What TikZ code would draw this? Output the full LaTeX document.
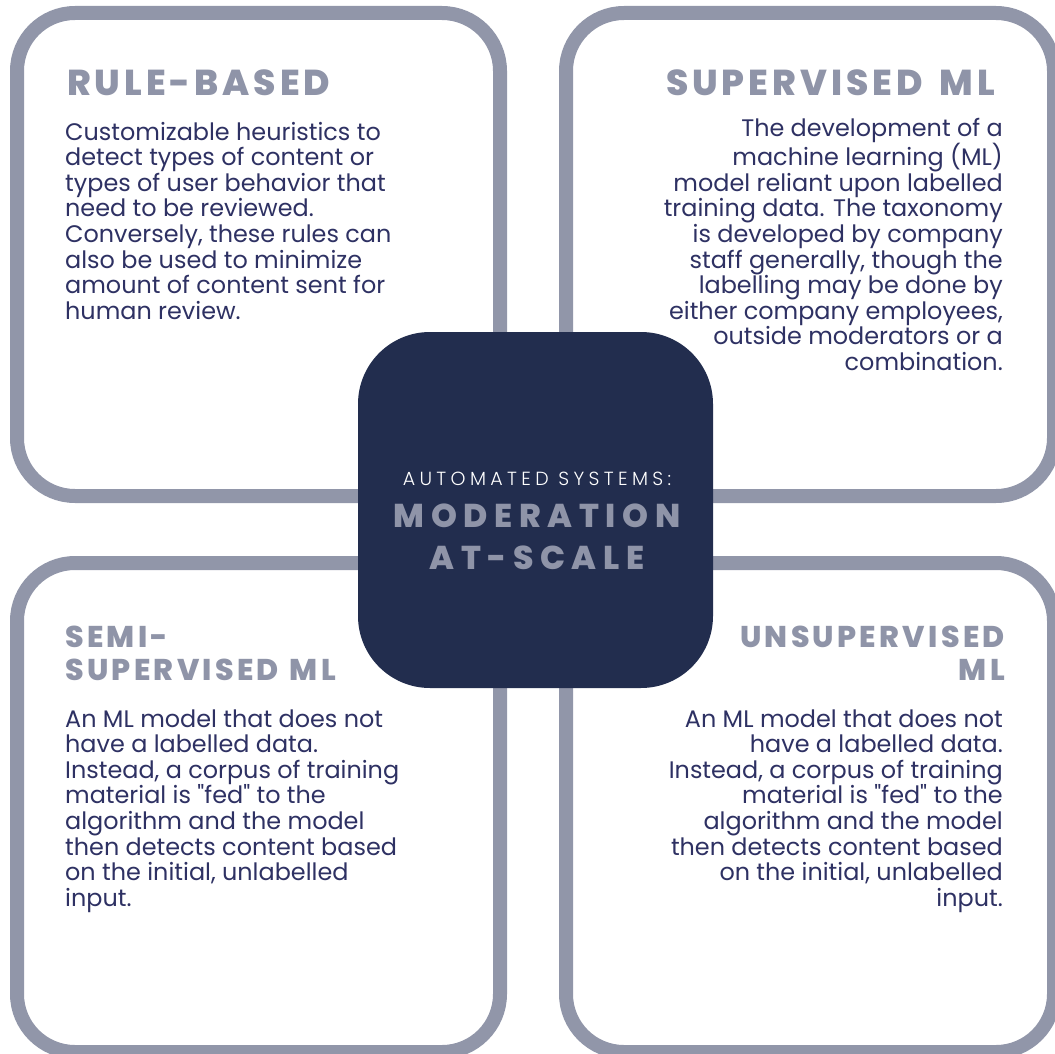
\documentclass[tikz,border=0pt]{standalone}
\usepackage{fontspec}
\setmainfont{Poppins}
% body text family without TeX ligatures, so " stays a straight quote
\newfontfamily\bodyfont{Poppins}
\newfontfamily\headfont{Poppins}[UprightFont={* ExtraBold}, LetterSpace=11]
\newfontfamily\hubfont{Poppins}[UprightFont={* ExtraBold}, LetterSpace=20]
\newfontfamily\capsfont{Poppins}[UprightFont={* Light}, LetterSpace=23]
\definecolor{frame}{HTML}{9196A9}
\definecolor{heading}{HTML}{8F94A8}
\definecolor{navy}{HTML}{222D4E}
\definecolor{ink}{HTML}{2E3163}
\newcommand{\wsp}[1]{\hspace{#1pt}}
\tikzset{
  card/.style={draw=frame, line width=14pt, fill=white, rounded corners=58pt,
    inner sep=0pt},
  hub/.style={fill=navy, rounded corners=72pt, inner sep=0pt},
  bighead/.style={inner sep=0pt, text=heading,
    font={\headfont\fontsize{36}{40}\selectfont}},
  smallhead/.style={inner sep=0pt, text=heading,
    font={\headfont\fontsize{30}{33}\selectfont}},
  body/.style={inner sep=0pt, text=ink,
    font={\bodyfont\fontsize{23.9}{25.6}\selectfont}},
  hubsub/.style={inner sep=0pt, text=white,
    font={\capsfont\fontsize{19}{22}\selectfont}},
  hubhead/.style={inner sep=0pt, text=heading,
    font={\hubfont\fontsize{33}{42}\selectfont}},
}
\begin{document}
\begin{tikzpicture}[x=1pt,y=-1pt]
\useasboundingbox (0,0) rectangle (1055,1054);

% four framed cards
\node[card, minimum width=483pt, minimum height=483pt] (tl) at (258.5,254.5) {};
\node[card, minimum width=488pt, minimum height=483pt] (tr) at (810,254.5) {};
\node[card, minimum width=483pt, minimum height=489pt] (bl) at (258.5,807.5) {};
\node[card, minimum width=488pt, minimum height=489pt] (br) at (810,807.5) {};

% central tile
\node[hub, minimum width=355pt, minimum height=356pt] (hub) at (535.5,510) {};

% rule-based (base anchors sit on the last line of each block)
\node[bighead, anchor=base west] (rbh) at (67,96) {RULE-BASED};
\node[body, align=left, anchor=base west] (rbt) at (65,319.2)
  {Customizable heuristics to\\detect types of content or\\types of user behavior that\\need to be reviewed.\\Conversely, these rules can\\also be used to minimize\\amount of content sent for\\human review.};

% supervised
\node[bighead, anchor=base east] (svh) at (995,96) {SUPERVISED\wsp{17}ML};
\node[body, align=right, anchor=base east] (svt) at (1003,370.4)
  {The development of a\\machine learning (ML)\\model reliant upon labelled\\training data. The taxonomy\\is developed by company\\staff generally, though the\\labelling may be done by\\either company employees,\\outside moderators or a\\combination.};

% semi-supervised
\node[smallhead, align=left, anchor=base west] (ssh) at (65,680) {SEMI-\\SUPERVISED\wsp{11}ML};
\node[body, align=left, anchor=base west] (sst) at (65,906.2)
  {An ML model that does not\\have a labelled data.\\Instead, a corpus of training\\material is "fed" to the\\algorithm and the model\\then detects content based\\on the initial, unlabelled\\input.};

% unsupervised
\node[smallhead, align=right, anchor=base east] (ush) at (1005,680) {UNSUPERVISED\\ML};
\node[body, align=right, anchor=base east] (ust) at (1003,906.2)
  {An ML model that does not\\have a labelled data.\\Instead, a corpus of training\\material is "fed" to the\\algorithm and the model\\then detects content based\\on the initial, unlabelled\\input.};

% central title
\node[hubsub, anchor=base] (hs) at (537,485) {AUTOMATED SYSTEMS:};
\node[hubhead, align=center, anchor=base] (hh) at (537,569) {MODERATION\\AT-SCALE};
\end{tikzpicture}
\end{document}
